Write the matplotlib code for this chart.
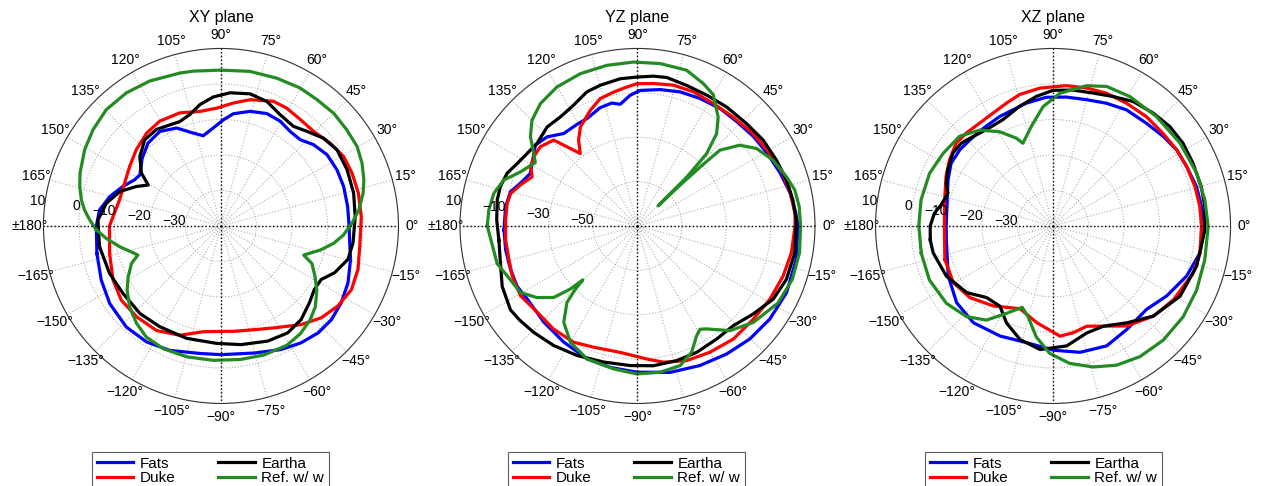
import numpy as np
import matplotlib.pyplot as plt

plt.rcParams['font.family'] = ['Liberation Sans', 'DejaVu Sans']

# ---- XY plane (dB vs angle in degrees) ----
xy_fats_deg = [-167.5, -155.7, -145.1, -133.1, -122.7, -112.4, -99.4, -90, -75.3, -64.1, -55.6, -47.8, -40.3,
               -32.6, -24.1, -14.5, -4.5, 0, 8.7, 17.8, 25.8, 33.9, 41.3, 47.4, 53.8, 60.5, 67.8, 75.8, 83.7,
               88.7, 94.5, 101.1, 106.6, 114.4, 122.9, 131.3, 139.2, 147.8, 151.9, 158.1, 165.2, 172.5, 180]
xy_fats_db = [-4.2, -3.0, -1.8, -1.0, -1.2, -2.1, -3.6, -3.75, -3.0, -1.3, -0.1, 0.7, 0.8,
              0.2, -0.8, -2.3, -3.7, -3.9, -3.9, -3.7, -3.7, -4.0, -5.3, -7.0, -7.0, -6.1, -5.8, -6.7, -8.2,
              -10.1, -12.3, -14.1, -12.7, -9.7, -8.3, -8.9, -10.7, -13.0, -12.4, -10.2, -7.6, -5.5, -4.9]

xy_duke_deg = [-166.2, -153.4, -143.3, -132.9, -121.7, -110.6, -99.5, -90, -82.8, -72.1, -62.3, -50.9, -42.5,
               -34.4, -26, -17.6, -8.2, 0, 3.8, 13.4, 22, 29.5, 37.2, 45.6, 53.3, 60.8, 67.2, 77, 84.3, 92.1,
               100.4, 110, 120.3, 128.7, 138, 146.9, 156, 165.6, 175, 180]
xy_duke_db = [-7.7, -6.0, -5.0, -5.1, -5.4, -7.1, -9.8, -10.3, -10.1, -9.3, -7.6, -4.2, -1.7,
              -0.1, 0.9, 0.5, -0.5, -0.6, -0.4, -0.2, -0.2, -0.3, -1.4, -2.7, -2.6, -2.0, -1.9, -3.5, -5.2, -6.8,
              -7.2, -6.1, -5.8, -6.5, -7.9, -9.3, -10.3, -10.5, -9.5, -8.6]

xy_eartha_deg = [-170.3, -156.9, -145.4, -132.8, -121.2, -107, -92, -80.4, -67.9, -58, -49.4, -41, -34.2, -28.1,
                 -22.4, -14.7, -7.2, 4, 13.9, 24, 33.3, 40.6, 47.8, 54, 62, 69.8, 77.6, 86.1, 93.4, 99.8,
                 105.6, 111.5, 116.8, 123.8, 131.5, 139.4, 146.4, 150.6, 155, 161.2, 168.8, 177.2]
xy_eartha_db = [-5.3, -5.9, -6.5, -6.4, -6.8, -6.9, -6.9, -6.1, -5.0, -4.5, -5.3, -7.0, -8.2, -8.0,
                -5.4, -3.0, -2.5, -2.1, -1.5, -1.1, -0.9, -2.0, -4.0, -5.3, -4.5, -2.6, -1.9, -2.4, -3.6, -5.3,
                -7.4, -8.4, -8.1, -7.3, -7.6, -9.9, -13.1, -16.5, -13.7, -9.9, -7.1, -5.3]

xy_ref_deg = [-178.2, -173.8, -168.4, -163.1, -160.7, -157.3, -151.3, -145.7, -138.4, -130.9, -123.9, -115.2,
              -104.7, -93.3, -81.9, -71.8, -61.1, -53.6, -46.6, -40.6, -33.8, -28.3, -22.4, -19.4, -13.6, -8.8,
              -4.2, 1.2, 6.6, 13, 17.9, 24, 30.3, 37.4, 44.9, 52.8, 60.2, 69.3, 79.4, 90, 100.1, 105, 116.2,
              125.4, 134.6, 143, 150.8, 159.4, 164.4, 169.4, 173.3, 177.4]
xy_ref_db = [-4.9, -7.5, -10.9, -14.1, -15.2, -12.7, -10.2, -8.0, -5.6, -3.7, -2.3, -1.8,
             -1.9, -2.1, -2.0, -1.7, -1.6, -2.3, -3.5, -5.0, -7.5, -9.9, -12.3, -15.3, -11.2, -7.9,
             -5.4, -3.1, -0.9, 1.1, 2.3, 3.5, 4.4, 4.6, 4.9, 4.7, 4.8, 4.5, 4.3, 3.9, 4.3, 4.6, 5.5,
             6.0, 6.0, 5.1, 4.0, 2.4, 1.3, 0.0, -1.3, -3.0]

# ---- YZ plane ----
yz_fats_deg = [-178.3, -169.7, -160.9, -153.3, -146.5, -134.2, -122.4, -110.8, -100.9, -90.3, -77.4, -65.9,
               -55.2, -45.2, -35.1, -24.1, -11.8, 0, 4.6, 12.1, 20.3, 29.3, 37.6, 46.4, 54.9,
               63.9, 72.4, 80.6, 88.9, 93.2, 98.1, 101.8, 107.5, 115.2, 120.7, 128.6, 135.4, 141.6, 153.9, 160,
               164.9, 171.7]
yz_fats_db = [-9.8, -9.6, -9.5, -9.3, -10.4, -9.5, -8.0, -5.9, -5.1, -4.1, -2.4, -1.1,
              0.3, 1.8, 2.9, 3.6, 3.1, 2.3, 1.6, 0.4, -1.4, -3.0, -4.0, -5.1, -5.3,
              -6.0, -6.6, -7.7, -8.9, -11.0, -14.6, -13.4, -14.1, -16.5, -16.7, -16.7, -12.8, -11.3, -16.2, -13.8,
              -10.7, -9.9]

yz_duke_deg = [-174, -165.2, -158, -149.2, -139.3, -129.1, -118.8, -109.9, -97.8, -86, -79.2, -69.9, -60.2,
               -49.7, -38.8, -28.9, -18.9, -9.8, 0, 4.5, 12, 19.8, 28.7, 38.6, 48.7, 58.2,
               67.4, 75.7, 83.6, 90.3, 94.4, 100.1, 106.3, 112.2, 120, 124.5, 128.3, 131.7, 134.3, 140.8, 146.3,
               151, 155, 160.7, 165.6, 170.2, 177.4]
yz_duke_db = [-10.2, -10.1, -9.2, -8.6, -10.4, -10.1, -10.2, -11.9, -12.5, -9.9, -7.5, -5.4, -4.4,
              -3.2, -3.0, -1.8, -0.6, 0.4, 1.0, 1.2, 0.5, -0.4, -2.0, -3.3, -4.7, -5.1,
              -4.5, -4.5, -5.4, -5.9, -7.2, -8.7, -10.2, -13.7, -18.5, -23.1, -28.4, -22.2, -15.9, -13.5, -13.8,
              -14.9, -17.6, -14.1, -11.0, -10.4, -10.5]

yz_eartha_deg = [-174.2, -164.8, -155.9, -146.6, -141.5, -134.3, -125, -115, -104, -93, -83.5, -73.8, -64.9, -55,
                 -46.2, -37.3, -28.3, -19.7, -9.6, 2.2, 9.5, 17.1, 25.3, 34.3, 43.2,
                 53.2, 62.1, 70.7, 78.8, 83.9, 90.3, 96.7, 104.8, 110.7, 117.9, 125.3, 132.4, 140.6, 146.7,
                 152.6, 158, 164, 169.5, 177.6]
yz_eartha_db = [-7.2, -6.0, -3.2, -1.4, -2.0, -3.0, -4.2, -5.6, -6.8, -7.0, -6.6, -6.8, -7.1, -7.8,
                -7.7, -4.5, -0.5, 1.3, 1.9, 1.6, 1.0, 0.3, -0.7, -1.4, -2.6,
                -3.0, -3.3, -2.9, -1.8, -2.1, -2.9, -3.2, -4.4, -5.4, -8.4, -9.8, -9.6, -11.4, -10.5,
                -8.9, -6.6, -5.7, -5.7, -6.5]

yz_ref_deg = [-180, -165, -157, -150.4, -144.5, -139.5, -136.8, -135.4, -134.5, -132.7, -127.4, -120, -110.8,
              -99.5, -90.3, -81.2, -73, -66.8, -61.7, -58.8, -56.1, -48.6, -39.8, -28.8, -19.1, -9.4, 0, 6.8,
              12.9, 18.3, 25.9, 33.1, 38.3, 42.6, 43.2, 43.8, 44.3, 44.8, 46.3, 49.4, 53.5, 60, 65.2, 72.5,
              82, 91.4, 100.8, 110.6, 120.1, 128.4, 135, 140.2, 144, 148.2, 155.2, 161, 167.2, 173.9]
yz_ref_db = [-2.3, -4.5, -7.8, -9.3, -14.4, -20.4, -28.5, -35.4, -30.0, -23.1, -15.3, -9.5, -5.9,
             -4.7, -3.3, -3.3, -4.2, -8.1, -13.8, -15.6, -14.1, -7.1, -2.1, 2.2, 3.8, 4.0, 3.5, 3.4,
             2.7, 0.7, -2.1, -6.0, -11.3, -19.5, -29.6, -43.3, -57.0, -38.7, -24.9, -15.2, -8.9, -1.7, 0.7, 3.6,
             3.9, 3.9, 3.7, 3.3, 2.4, 0.4, -2.7, -7.2, -11.9, -15.8, -11.9, -6.3, -3.6, -2.6]

# ---- XZ plane ----
xz_fats_deg = [-171.1, -154.5, -141.5, -129.5, -115.7, -102.7, -89.8, -77.9, -65.9, -54.5, -41.7, -31.6, -20.5,
               -10.3, 0, 7.4, 15.3, 24, 31.6, 39.1, 47.7, 57.7, 66.5, 75.2, 84.1,
               93, 102.3, 109, 116, 125.6, 134.1, 140.8, 148.4, 156.3, 166.2, 180]
xz_fats_db = [-9.6, -7.3, -5.3, -4.7, -5.6, -6.3, -5.0, -3.6, -3.0, -4.2, -4.7, -2.4, 0.2,
              2.1, 2.6, 2.2, 1.9, 1.2, 0.9, 0.0, -0.9, -1.3, -2.3, -3.2, -3.5,
              -3.7, -4.6, -5.4, -5.7, -6.2, -6.3, -6.1, -6.3, -7.7, -9.3, -9.9]

xz_duke_deg = [-162.8, -150.4, -139.2, -126.7, -111.8, -99.6, -86.4, -79.2, -71.4, -61.8, -53.6, -41.9, -31.4,
               -18.4, -10.6, 0, 7.5, 15.5, 24, 31.6, 40.1, 49.5, 59.1, 68.1,
               76.4, 84.6, 95.5, 104.3, 110.8, 118, 125.5, 133.1, 139.5, 147.4, 155.2, 166.5, 180]
xz_duke_db = [-8.1, -7.7, -9.1, -11.9, -14.9, -12.4, -8.9, -9.4, -10.2, -8.0, -5.0, -2.0, -0.2,
              1.7, 2.1, 1.8, 1.7, 1.5, 1.2, 0.9, 0.5, 0.5, 0.3, 0.3,
              0.0, -0.3, -1.0, -1.8, -3.0, -4.0, -4.4, -4.2, -4.1, -5.4, -6.8, -8.6, -9.4]

xz_eartha_deg = [-173.5, -167.4, -154.8, -142.3, -132.8, -123.5, -115.6, -106.2, -96, -83.5, -72.5, -63.3, -52.7,
                 -41.9, -28.9, -15.6, -1.5, 7.3, 14.9, 24.1,
                 32.5, 40.4, 48.4, 57.2, 65.1, 73.2, 81.6, 90, 97.3, 105.6, 115.3, 124.8, 131.8, 137.9, 144,
                 152, 158.2, 162.7, 169.4, 173.9, 180]
xz_eartha_db = [-5.2, -5.4, -6.8, -9.3, -12.5, -12.9, -9.7, -6.7, -5.0, -6.0, -8.4, -8.4, -5.7,
                -2.0, 0.9, 2.0, 2.8, 3.1, 3.2, 3.2,
                3.4, 3.2, 2.5, 1.7, 0.2, -0.9, -1.3, -1.8, -3.2, -5.0, -6.9, -7.0, -6.2, -5.2, -5.1,
                -6.4, -7.6, -9.0, -7.9, -6.4, -5.4]

xz_ref_deg = [-168.3, -156.4, -144, -133.7, -125.3, -118.1, -110.7, -105.4, -98.6, -91.5, -83.1, -74.1, -65.5,
              -56.4, -46, -34.9, -24.1, -12.6, -0.2, 9.7, 20.2, 33.1, 46.6, 59.3, 69, 76.6, 87.1, 94.8, 102.3,
              110, 112.7, 119.5, 127.4, 136.3, 146.6, 156.9, 168.8, 180]
xz_ref_db = [-2.1, -2.0, -2.9, -4.7, -7.5, -12.1, -15.5, -13.5, -8.4, -4.1, -1.0, 1.3, 3.1,
             4.2, 4.7, 4.7, 4.3, 3.8, 3.7, 3.4, 3.1, 2.7, 2.4, 2.4, 2.1, 0.6, -2.6, -6.3, -11.3,
             -15.2, -13.2, -9.5, -6.0, -3.5, -2.9, -2.2, -2.1, -2.2]

series_names = ['Fats', 'Duke', 'Eartha', 'Ref. w/ w']
series_colors = ['#0000ff', '#ff0000', '#000000', '#228b22']

theta_ticks = np.arange(0, 360, 15)
theta_labels = []
for a in theta_ticks:
    if a == 180:
        theta_labels.append('\u00b1180\u00b0')
    elif a > 180:
        theta_labels.append('\u2212%d\u00b0' % (360 - a))
    else:
        theta_labels.append('%d\u00b0' % a)


def closed(deg, db):
    deg = np.append(deg, deg[0])
    db = np.append(db, db[0])
    return np.deg2rad(deg), db


def draw_plane(ax, title, data, rmin, rticks, rlabels):
    for (deg, db), name, col in zip(data, series_names, series_colors):
        th, r = closed(deg, db)
        ax.plot(th, r, color=col, lw=2.3, label=name, solid_joinstyle='round')
    ax.set_ylim(rmin, 10)
    ax.set_thetagrids(theta_ticks, theta_labels, fontsize=10)
    ax.set_rgrids(rticks, [''] * len(rticks))
    for v, lab in zip(rticks, rlabels):
        ax.text(np.deg2rad(172), v, lab, ha='right', va='center', fontsize=10)
    ax.grid(True, color='#b0b0b0', linestyle=':', linewidth=0.8)
    for a in (0, 90, 180, 270):
        ax.axvline(np.deg2rad(a), color='k', linestyle=':', linewidth=1.0)
    ax.tick_params(axis='x', direction='in', length=5, pad=3)
    ax.spines['polar'].set_color('#333333')
    ax.spines['polar'].set_linewidth(0.8)
    ax.text(0.5, 1.088, title, transform=ax.transAxes, ha='center', va='center', fontsize=11.5)


fig = plt.figure(figsize=(12.63, 4.86), dpi=100)

size_w, size_h, bottom = 0.2811, 0.7305, 0.1698
ax1 = fig.add_axes([0.0344, bottom, size_w, size_h], projection='polar')
ax2 = fig.add_axes([0.3642, bottom, size_w, size_h], projection='polar')
ax3 = fig.add_axes([0.6932, bottom, size_w, size_h], projection='polar')

draw_plane(ax1, 'XY plane',
           [(xy_fats_deg, xy_fats_db), (xy_duke_deg, xy_duke_db),
            (xy_eartha_deg, xy_eartha_db), (xy_ref_deg, xy_ref_db)],
           -40, [-30, -20, -10, 0, 10], ['\u221230', '\u221220', '\u221210', '0', '10'])
draw_plane(ax2, 'YZ plane',
           [(yz_fats_deg, yz_fats_db), (yz_duke_deg, yz_duke_db),
            (yz_eartha_deg, yz_eartha_db), (yz_ref_deg, yz_ref_db)],
           -70, [-50, -30, -10, 10], ['\u221250', '\u221230', '\u221210', '10'])
draw_plane(ax3, 'XZ plane',
           [(xz_fats_deg, xz_fats_db), (xz_duke_deg, xz_duke_db),
            (xz_eartha_deg, xz_eartha_db), (xz_ref_deg, xz_ref_db)],
           -40, [-30, -20, -10, 0, 10], ['\u221230', '\u221220', '\u221210', '0', '10'])

for ax, x0 in zip([ax1, ax2, ax3], [0.0728, 0.4022, 0.7324]):
    leg = ax.legend(loc='upper left', bbox_to_anchor=(x0, 0.07), bbox_transform=fig.transFigure,
                    ncol=2, fontsize=11, frameon=True, fancybox=False, borderpad=0.3,
                    handlelength=2.4, handletextpad=0.45, columnspacing=2.75, labelspacing=0.05,
                    borderaxespad=0)
    leg.get_frame().set_edgecolor('#333333')
    leg.get_frame().set_linewidth(0.8)

fig.savefig('out.png', dpi=100)
